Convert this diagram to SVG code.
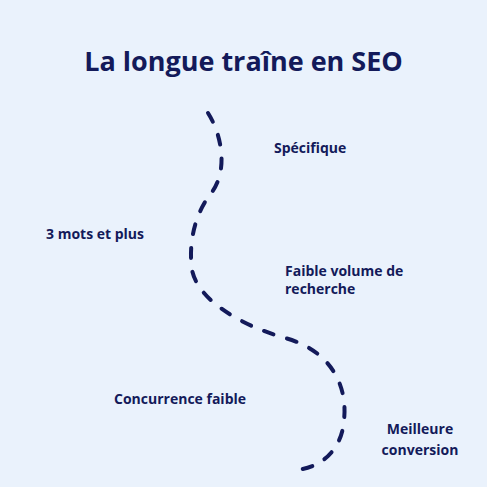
<svg xmlns="http://www.w3.org/2000/svg" width="487" height="487" viewBox="0 0 487 487">
<style>
.t{font-family:"Open Sans","Liberation Sans",sans-serif;font-weight:700;fill:#131a5a}
.lbl{font-size:14px}
.title{font-size:27px}
.dash{fill:none;stroke:#131a5a;stroke-width:4;stroke-linecap:round;stroke-dasharray:10 14}
</style>
<rect width="487" height="487" fill="#eaf2fc"/>
<text class="t title" x="243.5" y="71" text-anchor="middle">La longue traîne en SEO</text>
<g id="connectors">
<path class="dash" d="M 208,113 C 222,135 228,170 212,192 C 196,212 188,240 192,270 C 198,300 240,325 285,338 C 330,350 348,385 344,420 C 342,450 320,470 292,470"/>
</g>
<g id="n1"><text class="t lbl" x="274" y="153">Spécifique</text></g>
<g id="n2"><text class="t lbl" x="46" y="239">3 mots et plus</text></g>
<g id="n3"><text class="t lbl" x="285" y="276">Faible volume de</text><text class="t lbl" x="285" y="294">recherche</text></g>
<g id="n4"><text class="t lbl" x="114" y="404">Concurrence faible</text></g>
<g id="n5"><text class="t lbl" x="420" y="434" text-anchor="middle">Meilleure</text><text class="t lbl" x="420" y="455" text-anchor="middle">conversion</text></g>
</svg>
